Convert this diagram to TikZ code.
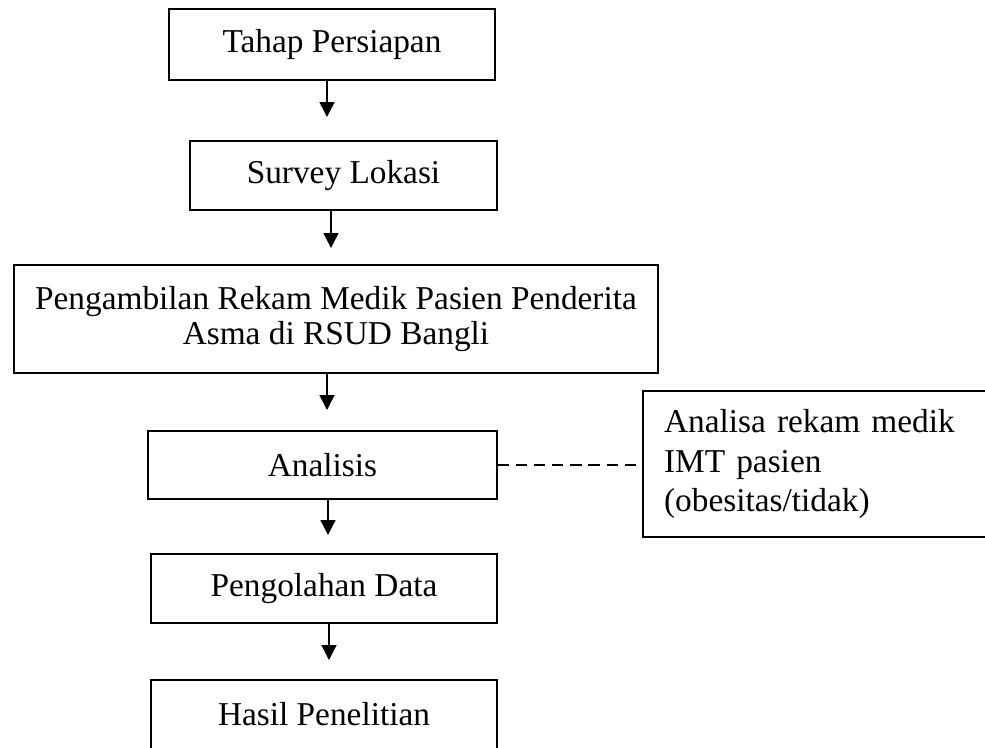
\documentclass[tikz,border=0pt]{standalone}
\usepackage{fontspec}
\setmainfont{Liberation Serif}
\usetikzlibrary{arrows.meta}

\begin{document}
\begin{tikzpicture}
        [
            x=0.36pt, y=-0.36pt,
            box/.style={rectangle, draw, line width=0.9pt, align=center, inner sep=0pt, font=\fontsize{12}{12.4}\selectfont},
            note/.style={rectangle, draw, line width=0.9pt, align=left, inner ysep=0pt, inner xsep=7.6pt, font=\fontsize{12}{14.2}\selectfont},
            flow/.style={-{Triangle[length=5.4pt, width=5.4pt]}, line width=0.5pt},
            link/.style={dash pattern=on 4pt off 2.5pt, line width=0.6pt}
        ]
        \useasboundingbox (0,0) rectangle (985,747);
        \clip (0,0) rectangle (985,747);

        \node[box, minimum width=117.4pt, minimum height=25.6pt] (prep) at (332,44.5) {Tahap Persiapan};
        \node[box, minimum width=110.5pt, minimum height=24.8pt] (survey) at (343.5,175.5) {Survey Lokasi};
        \node[box, minimum width=231.8pt, minimum height=38.9pt] (rekam) at (336,319) {Pengambilan Rekam Medik Pasien Penderita\\Asma di RSUD Bangli};
        \node[box, minimum width=125.6pt, minimum height=24.5pt] (analisis) at (322.5,465) {Analisis};
        \node[box, minimum width=124.6pt, minimum height=24.8pt] (olah) at (324,588.5) {Pengolahan Data};
        \node[box, minimum width=124.6pt, minimum height=24.8pt] (hasil) at (324,714.5) {Hasil Penelitian};
        \node[note, text width=114.4pt, minimum height=52.6pt] (imt) at (823,464) {Analisa rekam medik\\IMT pasien\\(obesitas/tidak)};

        % arrow tips stop short of the next box
        \coordinate (t1) at (327,117);
        \coordinate (t2) at (331,248);
        \coordinate (t3) at (327,410);
        \coordinate (t4) at (328,535);
        \coordinate (t5) at (329,660);
        \draw[flow] (prep.south -| t1) -- (t1);
        \draw[flow] (survey.south -| t2) -- (t2);
        \draw[flow] (rekam.south -| t3) -- (t3);
        \draw[flow] (analisis.south -| t4) -- (t4);
        \draw[flow] (olah.south -| t5) -- (t5);

        \draw[link] (analisis.east) -- (analisis.east -| imt.west);

    \end{tikzpicture}
\end{document}
